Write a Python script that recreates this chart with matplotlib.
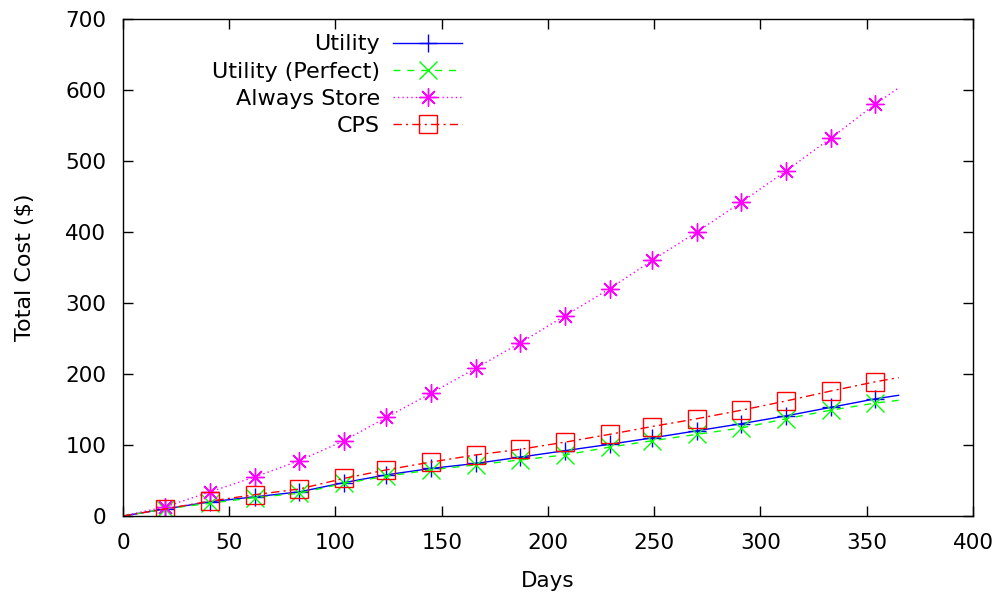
import matplotlib
matplotlib.use("Agg")
import matplotlib.pyplot as plt

# Values
days = [0, 20, 41, 62, 83, 104, 124, 145, 166, 187, 208, 229, 249, 270, 291, 312, 333, 354, 365]
utility = [0, 10, 20, 27, 34, 47, 58, 67, 74, 83, 92, 101, 110, 120, 130, 141, 153, 165, 170]
utility_perfect = [0, 10, 18, 26, 32, 46, 56, 65, 72, 79, 86, 97, 106, 115, 124, 137, 149, 159, 163]
always_store = [0, 13, 34, 55, 78, 106, 139, 173, 208, 244, 282, 320, 360, 400, 442, 486, 532, 580, 603]
cps = [0, 10, 21, 30, 38, 53, 65, 76, 86, 94, 104, 115, 126, 137, 149, 162, 176, 189, 195]

plt.rcParams["font.family"] = ["DejaVu Sans"]
plt.rcParams["font.size"] = 15.5

fig = plt.figure(figsize=(10.04, 5.98), dpi=100)
ax = fig.add_axes([123 / 1004, 1 - 516 / 598, 850 / 1004, 497 / 598])

marks = list(range(1, len(days) - 1))  # no markers on the end points
common = dict(lw=1, ms=13, mew=1, markevery=marks, mfc="none")
ax.plot(days, utility, color="#0000ff", ls="-", marker="+", label="Utility", **common)
ax.plot(days, utility_perfect, color="#00ff00", dashes=(5, 5), marker="x",
        label="Utility (Perfect)", **common)
ax.plot(days, always_store, color="#ff00ff", dashes=(1, 2.2), marker=(8, 2, 0),
        label="Always Store", **common)
ax.plot(days, cps, color="#ff0000", dashes=(6, 3, 1.5, 3), marker="s",
        label="CPS", **common)

ax.set_xlim(0, 400)
ax.set_ylim(0, 700)
ax.set_xticks(range(0, 401, 50))
ax.set_yticks(range(0, 701, 100))
ax.tick_params(direction="in", length=7.5, width=1, top=True, right=True, pad=12)
for s in ax.spines.values():
    s.set_linewidth(1)
ax.set_xlabel("Days", labelpad=13)
ax.set_ylabel("Total Cost ($)", labelpad=22, fontsize=16)

ax.legend(loc="upper right", bbox_to_anchor=(0.399, 0.969), markerfirst=False,
          frameon=False, handlelength=3.1, handletextpad=0.6, labelspacing=0.32,
          borderaxespad=0, borderpad=0, fontsize=16)

fig.savefig("out.png", dpi=100)
